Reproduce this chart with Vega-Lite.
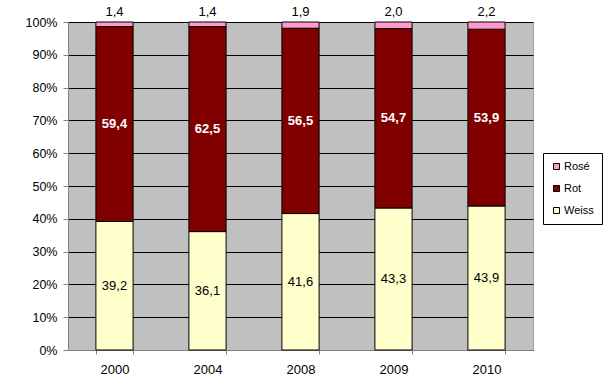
{
  "$schema": "https://vega.github.io/schema/vega-lite/v6.json",
  "autosize": {"type": "none"},
  "padding": {"left": 68, "top": 22, "right": 71, "bottom": 37},
  "width": 465,
  "height": 328,
  "background": "white",
  "config": {
    "locale": {"number": {"decimal": ",", "thousands": ".", "grouping": [3], "currency": ["", " €"]}},
    "font": "Liberation Sans",
    "view": {"fill": "#c0c0c0", "stroke": "#a0a0a0", "strokeWidth": 1},
    "axisY": {"labelFontSize": 12.5, "labelColor": "black", "labelPadding": 6, "domainColor": "#808080", "tickColor": "#808080", "tickSize": 5, "grid": true, "gridColor": "black", "gridOpacity": 1, "gridWidth": 1, "labelOverlap": false},
    "axisX": {"labelFontSize": 13, "labelColor": "black", "labelPadding": 9, "domainColor": "#808080", "tickColor": "#808080", "tickBand": "extent", "tickSize": 4, "grid": false}
  },
  "data": {
    "values": [
      {"Jahr": "2000", "Sorte": "Weiss", "Wert": 39.2},
      {"Jahr": "2000", "Sorte": "Rot", "Wert": 59.4},
      {"Jahr": "2000", "Sorte": "Rosé", "Wert": 1.4},
      {"Jahr": "2004", "Sorte": "Weiss", "Wert": 36.1},
      {"Jahr": "2004", "Sorte": "Rot", "Wert": 62.5},
      {"Jahr": "2004", "Sorte": "Rosé", "Wert": 1.4},
      {"Jahr": "2008", "Sorte": "Weiss", "Wert": 41.6},
      {"Jahr": "2008", "Sorte": "Rot", "Wert": 56.5},
      {"Jahr": "2008", "Sorte": "Rosé", "Wert": 1.9},
      {"Jahr": "2009", "Sorte": "Weiss", "Wert": 43.3},
      {"Jahr": "2009", "Sorte": "Rot", "Wert": 54.7},
      {"Jahr": "2009", "Sorte": "Rosé", "Wert": 2.0},
      {"Jahr": "2010", "Sorte": "Weiss", "Wert": 43.9},
      {"Jahr": "2010", "Sorte": "Rot", "Wert": 53.9},
      {"Jahr": "2010", "Sorte": "Rosé", "Wert": 2.2}
    ]
  },
  "transform": [
    {"stack": "Wert", "groupby": ["Jahr"], "sort": [{"field": "Sorte", "order": "descending"}], "as": ["y0", "y1"], "offset": "normalize"},
    {"calculate": "(datum.y0 + datum.y1) / 2", "as": "ymid"}
  ],
  "encoding": {
    "x": {
      "field": "Jahr", "type": "nominal",
      "scale": {"paddingInner": 0.6, "paddingOuter": 0.3},
      "axis": {"title": null, "labelAngle": 0}
    }
  },
  "layer": [
    {
      "mark": {"type": "bar", "stroke": "black", "strokeWidth": 1},
      "encoding": {
        "y": {
          "field": "y0", "type": "quantitative",
          "scale": {"domain": [0, 1], "nice": false},
          "axis": {"title": null, "format": ".0%", "values": [0, 0.1, 0.2, 0.3, 0.4, 0.5, 0.6, 0.7, 0.8, 0.9, 1]}
        },
        "y2": {"field": "y1"},
        "color": {
          "field": "Sorte", "type": "nominal",
          "scale": {"domain": ["Rosé", "Rot", "Weiss"], "range": ["#FF99CC", "#800000", "#FFFFCC"]},
          "legend": {
            "title": null, "orient": "none", "legendX": 475, "legendY": 131,
            "symbolType": "square", "symbolSize": 36, "symbolStrokeColor": "black", "symbolStrokeWidth": 1,
            "labelFontSize": 11, "labelColor": "black", "labelOffset": 2, "rowPadding": 10,
            "padding": 8, "strokeColor": "black", "fillColor": "white"
          }
        }
      }
    },
    {
      "transform": [{"filter": "datum.Sorte == 'Weiss'"}],
      "mark": {"type": "text", "fontSize": 13, "color": "black"},
      "encoding": {
        "y": {"field": "ymid", "type": "quantitative", "axis": {"title": null, "format": ".0%", "values": [0, 0.1, 0.2, 0.3, 0.4, 0.5, 0.6, 0.7, 0.8, 0.9, 1]}},
        "text": {"field": "Wert", "type": "quantitative", "format": ".1f"}
      }
    },
    {
      "transform": [{"filter": "datum.Sorte == 'Rot'"}],
      "mark": {"type": "text", "fontSize": 13, "fontWeight": "bold", "color": "white"},
      "encoding": {
        "y": {"field": "ymid", "type": "quantitative", "axis": {"title": null, "format": ".0%", "values": [0, 0.1, 0.2, 0.3, 0.4, 0.5, 0.6, 0.7, 0.8, 0.9, 1]}},
        "text": {"field": "Wert", "type": "quantitative", "format": ".1f"}
      }
    },
    {
      "transform": [{"filter": "datum.Sorte == 'Rosé'"}],
      "mark": {"type": "text", "fontSize": 13, "color": "black", "baseline": "bottom", "dy": -3},
      "encoding": {
        "y": {"field": "y1", "type": "quantitative", "axis": {"title": null, "format": ".0%", "values": [0, 0.1, 0.2, 0.3, 0.4, 0.5, 0.6, 0.7, 0.8, 0.9, 1]}},
        "text": {"field": "Wert", "type": "quantitative", "format": ".1f"}
      }
    }
  ]
}
